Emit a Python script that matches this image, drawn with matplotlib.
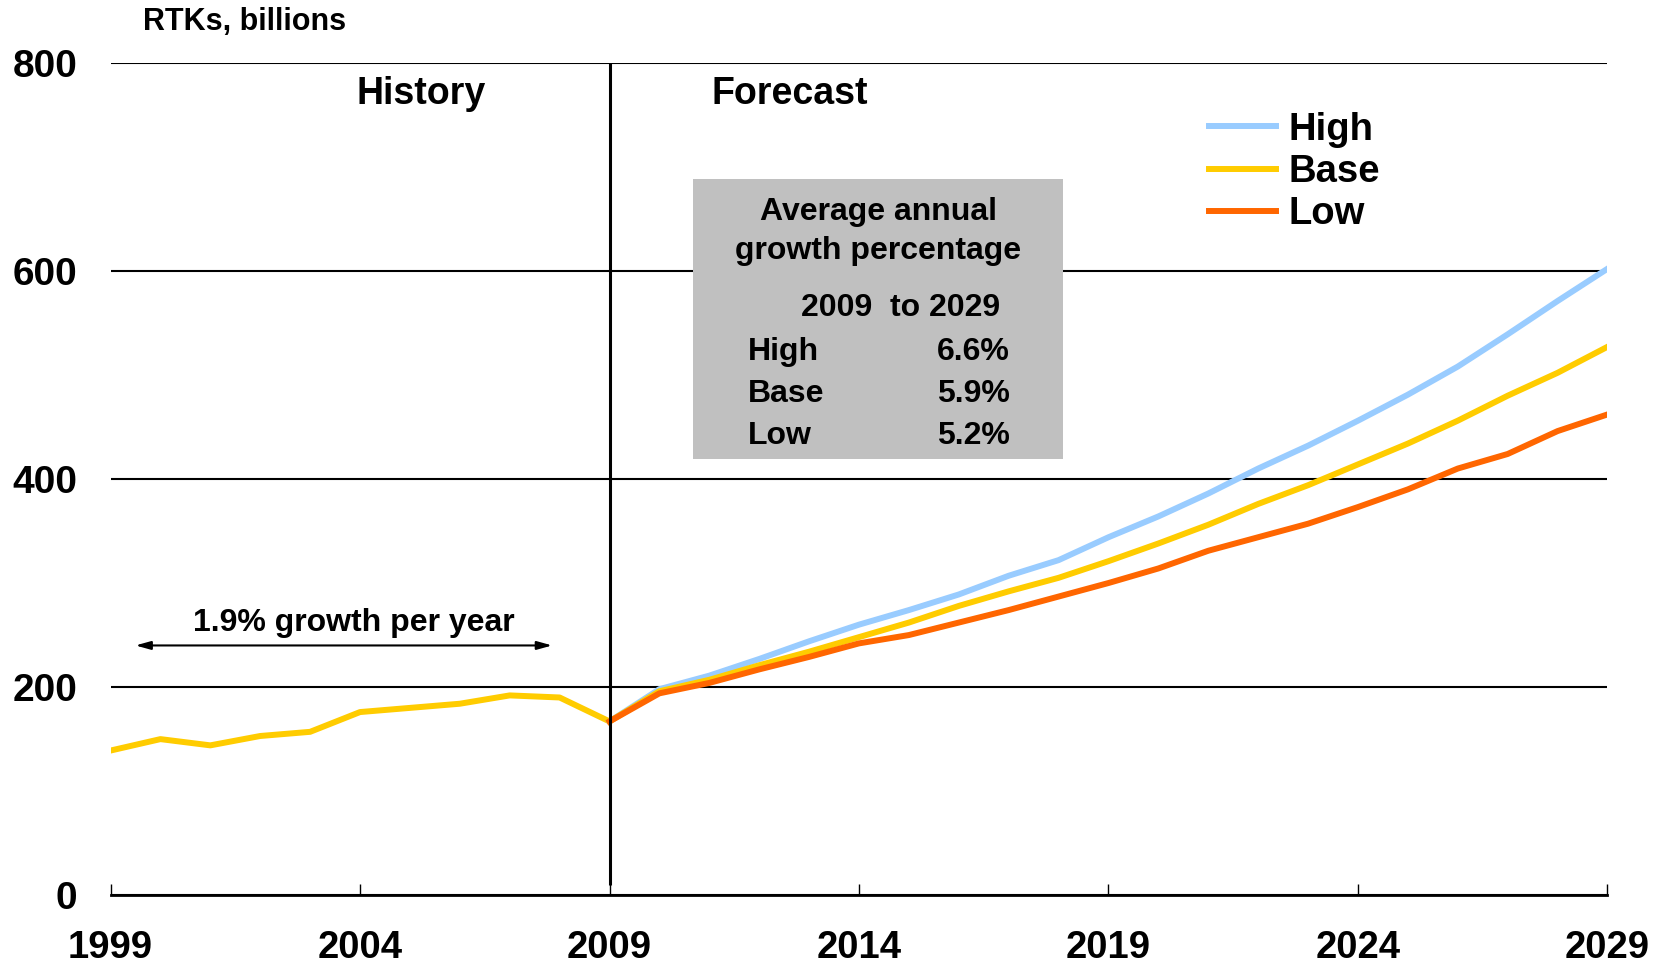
import matplotlib
matplotlib.use('Agg')
import matplotlib.pyplot as plt
import numpy as np

# ----------------------------------------------------------------------------------------------------------------------
#  DATA
# ----------------------------------------------------------------------------------------------------------------------
years_hist = [1999, 2000, 2001, 2002, 2003, 2004, 2005, 2006, 2007, 2008, 2009]
rtk_hist   = [139, 150, 144, 153, 157, 176, 180, 184, 192, 190, 167]

years_fc = list(range(2009, 2030))
rtk_high = [167, 198, 211, 227, 244, 260, 274, 289, 307, 322, 344,
            364, 386, 410, 432, 456, 481, 508, 539, 571, 602]
rtk_base = [167, 196, 207, 221, 234, 248, 262, 278, 292, 305, 321,
            338, 356, 376, 394, 414, 434, 456, 480, 502, 527]
rtk_low  = [167, 194, 204, 217, 229, 242, 250, 262, 274, 287, 300,
            314, 331, 344, 357, 373, 390, 410, 424, 446, 462]

x_ticks = [1999, 2004, 2009, 2014, 2019, 2024, 2029]
y_ticks = [0, 200, 400, 600, 800]

growth_labels = ['High', 'Base', 'Low']
growth_values = ['6.6%', '5.9%', '5.2%']

# ----------------------------------------------------------------------------------------------------------------------
#  STYLE
# ----------------------------------------------------------------------------------------------------------------------
plt.rcParams['font.family'] = ['Liberation Sans', 'DejaVu Sans']
plt.rcParams['font.weight'] = 'bold'

c_high = '#99CCFF'
c_base = '#FFCC00'
c_low  = '#FF6600'
lw     = 4.3

fig = plt.figure(figsize=(16.67, 9.72), dpi=100)
ax  = fig.add_axes([0.0663, 0.079, 0.898, 0.8565])

# lines
ax.plot(years_hist, rtk_hist, color=c_base, linewidth=lw, zorder=3)
l_high, = ax.plot(years_fc, rtk_high, color=c_high, linewidth=lw, zorder=3, label='High')
l_base, = ax.plot(years_fc, rtk_base, color=c_base, linewidth=lw, zorder=4, label='Base')
l_low,  = ax.plot(years_fc, rtk_low,  color=c_low,  linewidth=lw, zorder=5, label='Low')

# history / forecast divider
ax.vlines(2009, 10, 800, color='black', linewidth=2.2, zorder=6)

# axes
ax.set_xlim(1999, 2029)
ax.set_ylim(0, 800)
ax.set_xticks(x_ticks)
ax.set_yticks(y_ticks)
ax.tick_params(axis='x', direction='in', length=8, width=1.0, pad=25, labelsize=27.5)
ax.tick_params(axis='y', length=0, pad=24, labelsize=28)
for lab in ax.get_xticklabels() + ax.get_yticklabels():
    lab.set_fontweight('bold')
for s in ['top', 'right', 'left']:
    ax.spines[s].set_visible(False)
ax.spines['bottom'].set_linewidth(2.0)
ax.spines['bottom'].set_zorder(7)
ax.yaxis.grid(True, color='black', linewidth=1.5, zorder=1)
ax.set_axisbelow(True)

# titles
fig.text(0.0855, 0.977, 'RTKs, billions', fontsize=22, fontweight='bold', ha='left', va='center')
fig.text(0.2526, 0.9037, 'History', fontsize=27, fontweight='bold', ha='center', va='center')
fig.text(0.4271, 0.9037, 'Forecast', fontsize=27, fontweight='bold', ha='left', va='center')

# growth annotation
ax.annotate('', xy=(1999.5, 240), xytext=(2007.85, 240),
            arrowprops=dict(arrowstyle='<|-|>,head_length=0.9,head_width=0.25',
                            color='black', linewidth=1.5, shrinkA=0, shrinkB=0))
ax.text(2003.88, 262, '1.9% growth per year', fontsize=23, fontweight='bold',
        ha='center', va='center')

# growth table box
box = plt.Rectangle((0.4157, 0.5275), 0.222, 0.2888, transform=fig.transFigure,
                    facecolor='#C0C0C0', edgecolor='none', zorder=8)
fig.patches.append(box)
fig.text(0.5268, 0.7815, 'Average annual', fontsize=23, fontweight='bold', ha='center', va='center', zorder=9)
fig.text(0.5268, 0.7421, 'growth percentage', fontsize=23, fontweight='bold', ha='center', va='center', zorder=9)
fig.text(0.5402, 0.6831, '2009  to 2029', fontsize=23, fontweight='bold', ha='center', va='center', zorder=9)
row_y = [0.6383, 0.5945, 0.5518]
for lab, val, yy in zip(growth_labels, growth_values, row_y):
    fig.text(0.4484, yy, lab, fontsize=23, fontweight='bold', ha='left', va='center', zorder=9)
    fig.text(0.6059, yy, val, fontsize=23, fontweight='bold', ha='right', va='center', zorder=9)

# legend
leg = fig.legend(handles=[l_high, l_base, l_low], loc='upper left',
                 bbox_to_anchor=(0.7253, 0.885), frameon=False,
                 prop={'size': 27.5, 'weight': 'bold'}, handlelength=1.75,
                 handletextpad=0.33, labelspacing=0.16, borderpad=0, borderaxespad=0)

fig.savefig('out.png', dpi=100)
